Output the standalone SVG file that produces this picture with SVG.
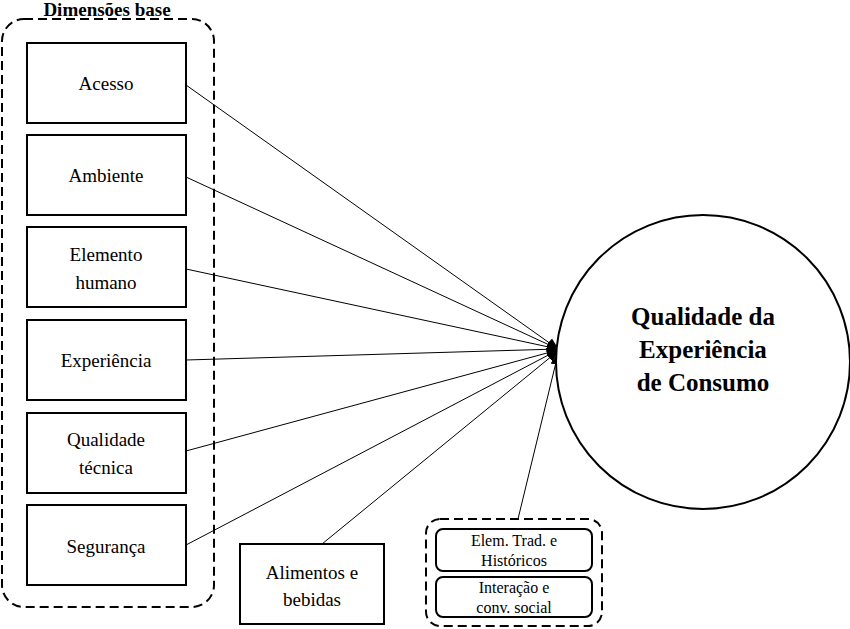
<svg xmlns="http://www.w3.org/2000/svg" width="850" height="629" viewBox="0 0 850 629">
<style>
text{font-family:"Liberation Serif","Times New Roman","DejaVu Serif",serif;fill:#000;text-anchor:middle}
.b{fill:#fff;stroke:#000;stroke-width:2}
.t{font-size:19px}
.s{font-size:16px}
.h{font-weight:bold;font-size:25px}
.d{fill:none;stroke:#000;stroke-width:2;stroke-dasharray:9,5}
.c{stroke:#000;stroke-width:1;fill:none;marker-end:url(#a)}
</style>
<defs><marker id="a" markerWidth="12" markerHeight="12" refX="11" refY="6" orient="auto" markerUnits="userSpaceOnUse"><path d="M0,1L12,6L0,11z" fill="#000"/></marker></defs>
<rect id="base" class="d" x="2" y="19" width="212" height="588" rx="22"/>
<text x="107" y="16" font-weight="bold" font-size="19">Dimensões base</text>
<g id="connectors">
<line class="c" x1="186" y1="85" x2="558" y2="349"/>
<line class="c" x1="186" y1="177" x2="558" y2="349"/>
<line class="c" x1="186" y1="269" x2="558" y2="349"/>
<line class="c" x1="186" y1="360" x2="558" y2="349"/>
<line class="c" x1="186" y1="451" x2="558" y2="350"/>
<line class="c" x1="186" y1="545" x2="558" y2="350"/>
<line class="c" x1="322" y1="544" x2="558" y2="351"/>
<line class="c" x1="518" y1="519" x2="558" y2="354"/>
</g>
<g id="acesso"><rect class="b" x="27" y="43" width="159" height="80"/><text class="t" x="106" y="90">Acesso</text></g>
<g id="ambiente"><rect class="b" x="27" y="135" width="159" height="80"/><text class="t" x="106" y="182">Ambiente</text></g>
<g id="elemento"><rect class="b" x="27" y="227" width="159" height="80"/><text class="t" x="106" y="261">Elemento</text><text class="t" x="106" y="289">humano</text></g>
<g id="experiencia"><rect class="b" x="27" y="320" width="159" height="80"/><text class="t" x="106" y="367">Experiência</text></g>
<g id="qualidade"><rect class="b" x="27" y="413" width="159" height="80"/><text class="t" x="106" y="446">Qualidade</text><text class="t" x="106" y="474">técnica</text></g>
<g id="seguranca"><rect class="b" x="27" y="505" width="159" height="80"/><text class="t" x="106" y="553">Segurança</text></g>
<g id="alimentos"><rect class="b" x="240" y="544" width="144" height="80"/><text class="t" x="312" y="579">Alimentos e</text><text class="t" x="312" y="606">bebidas</text></g>
<g id="grupo"><rect class="d" x="426" y="519" width="176" height="107" rx="14"/>
<rect class="b" x="436" y="529" width="156" height="42" rx="7"/><text class="s" x="514" y="546">Elem. Trad. e</text><text class="s" x="514" y="566">Históricos</text>
<rect class="b" x="436" y="577" width="156" height="40" rx="7"/><text class="s" x="514" y="593">Interação e</text><text class="s" x="514" y="613">conv. social</text></g>
<g id="qec"><ellipse cx="703" cy="362" rx="147" ry="147" fill="#fff" stroke="#000" stroke-width="2"/>
<text class="h" x="703" y="325">Qualidade da</text>
<text class="h" x="703" y="358">Experiência</text>
<text class="h" x="703" y="391">de Consumo</text></g>
</svg>
